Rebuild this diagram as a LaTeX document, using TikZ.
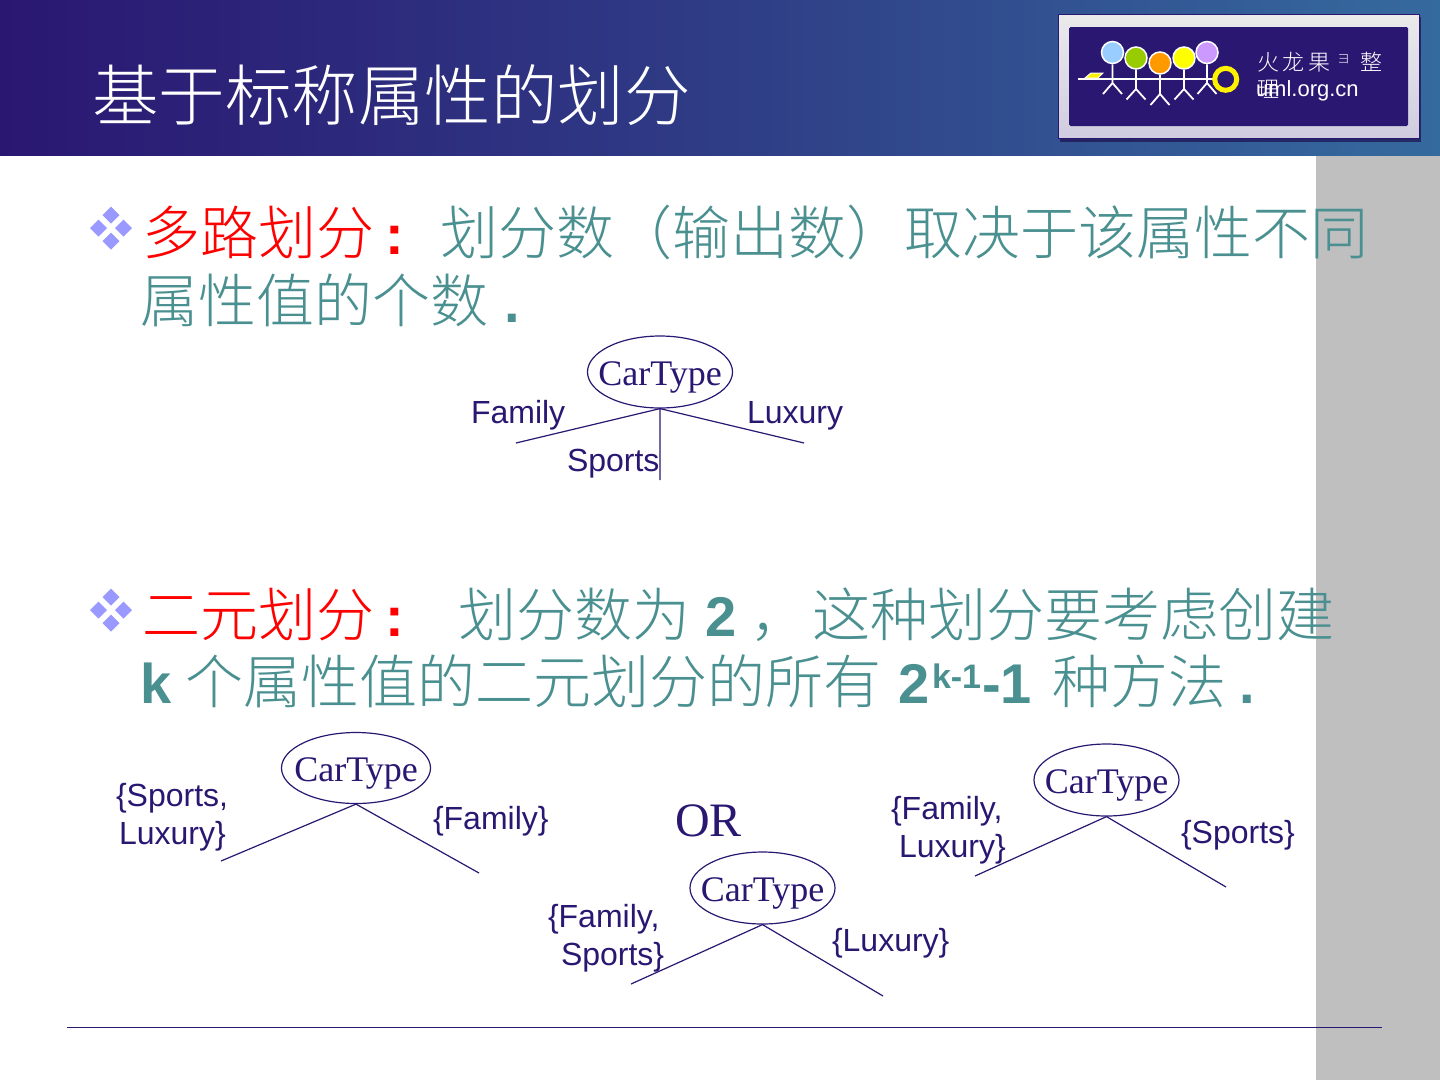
\documentclass[tikz,border=0pt]{standalone}
\usepackage{fontspec}
\setmainfont{Liberation Sans}
\newfontfamily\cjk{Noto Sans CJK SC Light}
\newfontfamily\serifen{Liberation Serif}
\usetikzlibrary{shapes.geometric}
\definecolor{navy}{HTML}{2A1772}
\definecolor{hdrR}{HTML}{356A9E}
\definecolor{teal1}{HTML}{4A9090}
\definecolor{bul}{HTML}{9999FF}
\newcommand{\fs}[1]{\fontsize{#1}{#1}\selectfont}
\newcommand{\ct}{\makebox[0pt]{\smash{\raisebox{-13pt}{CarType}}}}
\tikzset{
  x=1pt,y=-1pt,
  txt/.style={inner sep=0pt,outer sep=0pt,anchor=base west},
  title/.style={txt,text=white,font=\cjk\fs{66.5}},
  bodyc/.style={txt,text=teal1,font=\cjk\fs{58}},
  bodyr/.style={txt,text=red,font=\cjk\fs{58}},
  bodyb/.style={txt,text=teal1,font=\bfseries\fs{56}},
  bodyrb/.style={txt,text=red,font=\bfseries\fs{56}},
  lbl/.style={txt,text=navy,font=\fs{32}},
  tree/.style={draw=navy,line width=1.2pt},
  ctype/.style={ellipse,draw=navy,line width=1.2pt,inner sep=0pt,minimum width=145pt,minimum height=72pt,text=navy,font=\serifen\fs{36}},
  dia/.style={fill=bul},
  stick/.style={draw=white,line width=1.8pt},
  head/.style={circle,draw=white,line width=1.5pt,minimum size=22pt,inner sep=0pt},
  logot/.style={txt,text=white,font=\cjk\fs{22}},
}
\newcommand{\bullets}[2]{%
  \foreach \dx/\dy in {0/-13,-12.5/0,12.5/0,0/13}{
    \fill[dia] (#1+\dx-8.5,#2+\dy) -- (#1+\dx,#2+\dy-8.5) -- (#1+\dx+8.5,#2+\dy) -- (#1+\dx,#2+\dy+8.5) -- cycle;
  }}
\newcommand{\stickfig}[6]{% name, x, headY, colour, hipY, footY
  \node[head,fill=#4] (#1) at (#2,#3) {};
  \draw[stick] (#1.south) -- (#2,#5) -- (#2-9.5,#6) (#2,#5) -- (#2+9.5,#6);}
\begin{document}
\begin{tikzpicture}
\useasboundingbox (0,0) rectangle (1440,1080);
\fill[white] (0,0) rectangle (1440,1080);
\fill[black!25] (1316,155) rectangle (1440,1080);
\shade[left color=navy,right color=hdrR,middle color=navy!55!hdrR] (0,0) rectangle (1440,155);
\node[title] (t) at (92,120) {基于标称属性的划分};
% logo
\fill[navy!70!black,opacity=.7] (1060,17) rectangle (1421,142);
\shade[top color=black!8!white,bottom color=navy!22!white,draw=navy,line width=1pt] (1058,14) rectangle (1419,138);
\fill[navy,rounded corners=1.5pt] (1069,27) rectangle (1408,126);
\draw[stick] (1078,79) -- (1217,79);
\fill[yellow,draw=white,line width=1pt] (1085,78) -- (1091,73) -- (1103,73) -- (1098,78) -- cycle;
\definecolor{ha}{HTML}{99CCFF}\definecolor{hb}{HTML}{99CC00}\definecolor{hc}{HTML}{FF9900}\definecolor{hd}{HTML}{FFFF00}\definecolor{he}{HTML}{CC99FF}
\stickfig{pa}{1112.5}{52.5}{ha}{83}{94}
\stickfig{pb}{1136}{58}{hb}{89}{99.5}
\stickfig{pc}{1160}{63}{hc}{94}{105}
\stickfig{pd}{1184}{58}{hd}{89}{99.5}
\stickfig{pe}{1207}{52.5}{he}{83}{94}
\node[circle,draw=yellow,line width=5pt,fill=navy,minimum size=22pt,inner sep=0pt] (ring) at (1225.7,79.3) {};
\node[logot] (l1) at (1257,70) {火};
\node[logot] (l2) at (1282,70) {龙};
\node[logot] (l3) at (1308,70) {果};
\node[logot,font=\cjk\fs{13}] (l4) at (1337,63) {ヨ};
\node[logot] (l5) at (1360,70) {整};
\node[logot] (l6) at (1257,97) {理};
\node[txt,text=white,font=\fs{22}] (l7) at (1256,96) {uml.org.cn};
% bullet 1
\bullets{111}{228}
\node[bodyr] (a1) at (142,254) {多路划分};
\node[bodyrb] (a2) at (385,254) {:};
\node[bodyc] (a3) at (440,254) {划分数（输出数）取决于该属性不同};
\node[bodyc] (a4) at (140,322) {属性值的个数};
\node[bodyb] (a5) at (504,322) {.};
% bullet 2
\bullets{111}{610}
\node[bodyr] (b1) at (142,636) {二元划分};
\node[bodyrb] (b2) at (385,636) {:};
\node[bodyc] (b3) at (458,636) {划分数为};
\node[bodyb] (b4) at (705,636) {2};
\node[bodyc] (b5) at (750,636) {，};
\node[bodyc] (b6) at (812,636) {这种划分要考虑创建};
\node[bodyb] (c1) at (140,703) {k};
\node[bodyc] (c2) at (185,703) {个属性值的二元划分的所有};
\node[bodyb] (c3) at (898,703) {2};
\node[bodyb,font=\bfseries\fs{34}] (c4) at (932,688) {k-1};
\node[bodyb] (c5) at (982,703) {-1};
\node[bodyc] (c6) at (1052,703) {种方法};
\node[bodyb] (c7) at (1239,703) {.};
% tree 1
\node[ctype] (n1) at (660,372) {\ct};
\coordinate (n1a) at (516,443); \coordinate (n1b) at (660,480); \coordinate (n1c) at (804,443);
\draw[tree] (n1.south) -- (n1a) (n1.south) -- (n1b) (n1.south) -- (n1c);
\node[lbl] (f1) at (471,423) {Family};
\node[lbl] (f2) at (747,423) {Luxury};
\node[lbl] (f3) at (567,471) {Sports};
% tree 2
\node[ctype,minimum width=149pt,minimum height=71pt] (n2) at (356,768) {\ct};
\coordinate (n2a) at (221,861); \coordinate (n2b) at (479,873);
\draw[tree] (n2.south) -- (n2a) (n2.south) -- (n2b);
\node[lbl] (g1) at (116,806) {\{Sports,};
\node[lbl] (g2) at (119,844) {Luxury\}};
\node[lbl] (g3) at (433,829) {\{Family\}};
\node[txt,text=navy,font=\serifen\fs{48}] (or) at (675,836) {OR};
% tree 3
\node[ctype] (n3) at (1106.5,780) {\ct};
\coordinate (n3a) at (975,876); \coordinate (n3b) at (1226,887);
\draw[tree] (n3.south) -- (n3a) (n3.south) -- (n3b);
\node[lbl] (h1) at (891,819) {\{Family,};
\node[lbl] (h2) at (899,857) {Luxury\}};
\node[lbl] (h3) at (1181,843) {\{Sports\}};
% tree 4
\node[ctype] (n4) at (762.5,888) {\ct};
\coordinate (n4a) at (631,984); \coordinate (n4b) at (883,996);
\draw[tree] (n4.south) -- (n4a) (n4.south) -- (n4b);
\node[lbl] (i1) at (548,927) {\{Family,};
\node[lbl] (i2) at (561,965) {Sports\}};
\node[lbl] (i3) at (832,951) {\{Luxury\}};
% rule
\coordinate (ra) at (67,1027.5); \coordinate (rb) at (1382,1027.5);
\draw[navy,line width=1pt] (ra) -- (rb);
\end{tikzpicture}
\end{document}
